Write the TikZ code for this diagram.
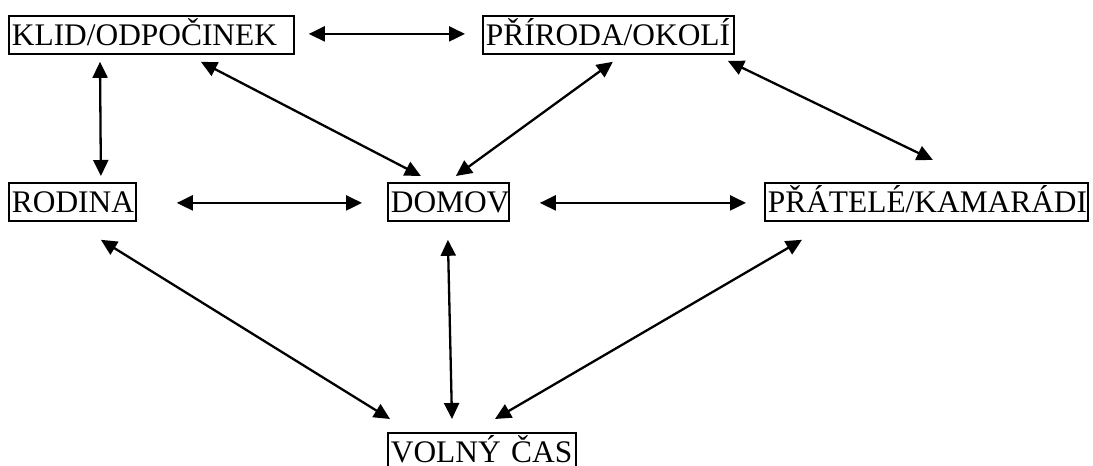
\documentclass[tikz,border=0pt]{standalone}
\usepackage{fontspec}
\setmainfont{Liberation Serif}
\usetikzlibrary{arrows.meta,calc}
\tikzset{
  box/.style={draw, line width=1.8pt, anchor=north west, inner xsep=3pt, inner ysep=0pt,
    minimum height=38pt, text height=20.8pt, text depth=0pt, align=left,
    font=\fontsize{31.4pt}{36pt}\selectfont},
  link/.style={line width=2.3pt, {Triangle[length=16pt,width=15pt]}-{Triangle[length=16pt,width=15pt]}}
}
\begin{document}
\begin{tikzpicture}[x=1pt,y=-1pt]
\useasboundingbox (0,0) rectangle (1093,466);
\node[box, text width=279pt] (klid) at (8,15) {KLID/ODPOČINEK};
\node[box, text width=245pt] (priroda) at (482,15) {PŘÍRODA/OKOLÍ};
\node[box, text width=121pt] (rodina) at (8,182) {RODINA};
\node[box, text width=115pt] (domov) at (387,182) {DOMOV};
\node[box, text width=317pt] (pratele) at (764,182) {PŘÁTELÉ/KAMARÁDI};
\node[box, text width=182pt] (volny) at (387,432) {\mbox{VOLNÝ ČAS}};

\draw[link] ($(klid.east)+(14,-1)$) -- ($(priroda.west)+(-17,-1)$);
\draw[link] ($(klid.south west)+(92,7)$) -- ($(rodina.north)+(28.5,-6)$);
\draw[link] ($(klid.south)+(49.5,7)$) -- ($(domov.north)+(-27.5,-6)$);
\draw[link] ($(priroda.south)+(4.5,7)$) -- ($(domov.north)+(7.5,-6)$);
\draw[link] ($(priroda.south east)+(-7,6)$) -- ($(pratele.north)+(6.5,-22)$);
\draw[link] ($(rodina.east)+(40,1)$) -- ($(domov.west)+(-25,1)$);
\draw[link] ($(domov.east)+(30,1)$) -- ($(pratele.west)+(-18,1)$);
\draw[link] ($(rodina.south)+(28.5,18)$) -- ($(volny.north west)+(3,-13)$);
\draw[link] ($(domov.south)+(-0.5,18)$) -- ($(volny.north west)+(65,-13)$);
\draw[link] ($(pratele.south west)+(38,18)$) -- ($(volny.north west)+(108,-13)$);
\end{tikzpicture}
\end{document}
